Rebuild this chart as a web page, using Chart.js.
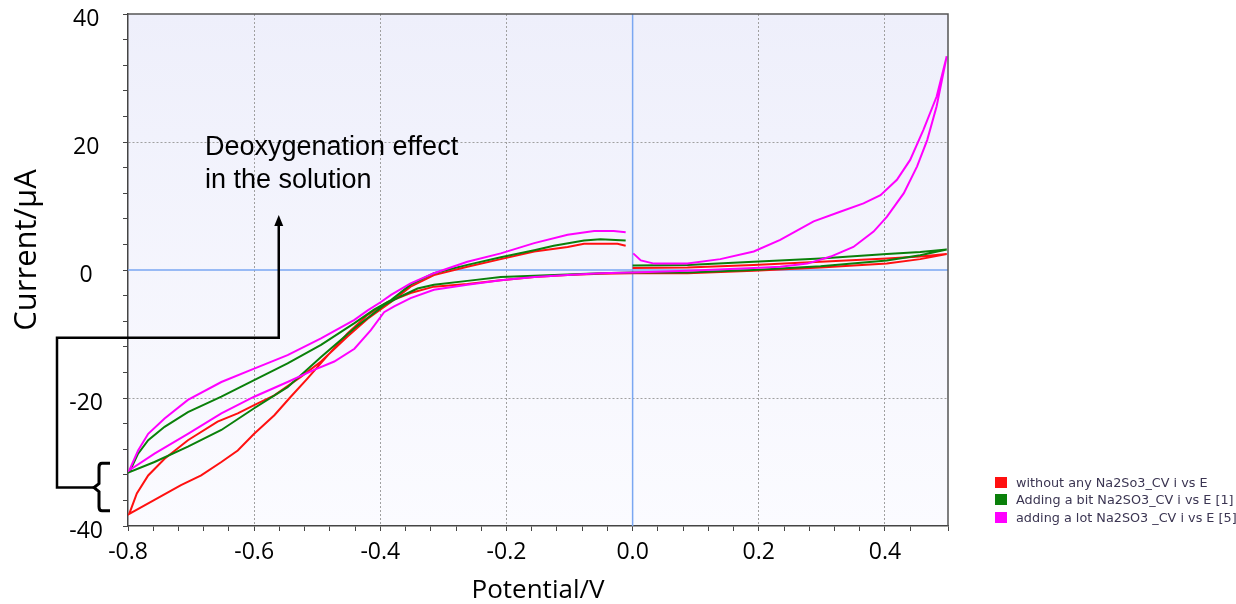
<!DOCTYPE html>
<html>
<head>
<meta charset="utf-8">
<script src="https://cdn.jsdelivr.net/npm/chart.js@4.4.1/dist/chart.umd.min.js"></script>
<style>
  html, body { margin: 0; padding: 0; background: #fff; }
  #wrap { position: relative; width: 1236px; height: 604px; }
  #legend { position: absolute; left: 995px; top: 474px; font: 12.8px "DejaVu Sans", sans-serif; color: #3b3552; }
  .item { height: 17.3px; display: flex; align-items: center; white-space: nowrap; }
  .sw { width: 12px; height: 11px; margin-right: 9px; flex: none; }
</style>
</head>
<body>
<div id="wrap">
  <canvas id="cv" width="1236" height="604"></canvas>
  <div id="legend"></div>
</div>
<script>
// scan: 0 -> 0.5 -> 0 -> -0.8 -> back up to -0.01 V
const redPotential = [0.0, 0.087, 0.192, 0.298, 0.403, 0.456, 0.498, 0.456, 0.403, 0.298, 0.192, 0.087, 0.0,
  -0.051, -0.103, -0.156, -0.209, -0.262, -0.315, -0.352, -0.388,
  -0.420, -0.452, -0.483, -0.516, -0.542, -0.568, -0.600, -0.626, -0.652, -0.684, -0.716, -0.758, -0.798,
  -0.786, -0.768, -0.742, -0.705, -0.658, -0.626, -0.600, -0.568, -0.526, -0.494, -0.452, -0.420,
  -0.383, -0.352, -0.315, -0.262, -0.209, -0.156, -0.103, -0.077, -0.024, -0.011];
const redCurrent = [0.3, 0.4, 0.8, 1.3, 1.8, 2.1, 2.5, 1.7, 1.0, 0.4, -0.1, -0.5, -0.5,
  -0.6, -0.8, -1.1, -1.6, -2.2, -2.6, -3.6, -5.0,
  -7.0, -9.9, -13.3, -17.0, -19.8, -22.7, -25.6, -28.2, -30.0, -32.1, -33.6, -35.9, -38.1,
  -34.9, -32.1, -29.5, -26.6, -23.7, -22.4, -21.1, -19.6, -16.7, -14.3, -10.4, -7.6,
  -5.0, -2.6, -0.8, 0.5, 1.7, 2.9, 3.6, 4.1, 4.1, 3.8];

const greenPotential = [0.0, 0.087, 0.192, 0.298, 0.403, 0.456, 0.498, 0.456, 0.403, 0.298, 0.192, 0.087, 0.0,
  -0.051, -0.103, -0.156, -0.209, -0.262, -0.315, -0.341, -0.367, -0.394,
  -0.441, -0.494, -0.547, -0.600, -0.652, -0.705, -0.758, -0.798,
  -0.784, -0.768, -0.742, -0.705, -0.652, -0.600, -0.547, -0.494, -0.441, -0.410,
  -0.383, -0.352, -0.315, -0.262, -0.209, -0.156, -0.125, -0.077, -0.051, -0.011];
const greenCurrent = [0.7, 0.8, 1.3, 1.8, 2.5, 2.8, 3.2, 2.3, 1.5, 0.6, 0.0, -0.4, -0.4,
  -0.5, -0.7, -0.9, -1.1, -1.7, -2.3, -2.9, -4.1, -5.5,
  -9.1, -13.6, -18.3, -21.6, -25.0, -27.6, -30.0, -31.6,
  -28.7, -26.6, -24.5, -22.2, -19.8, -17.2, -14.6, -11.7, -8.3, -6.2,
  -4.7, -2.3, -0.5, 0.8, 2.0, 3.1, 3.8, 4.6, 4.8, 4.6];

const magentaPotential = [0.001, 0.013, 0.034, 0.087, 0.139, 0.192, 0.234, 0.287, 0.329, 0.366, 0.393, 0.419, 0.440, 0.461, 0.482, 0.498,
  0.482, 0.467, 0.451, 0.430, 0.403, 0.382, 0.350, 0.314, 0.277, 0.234, 0.192, 0.087, 0.0,
  -0.051, -0.103, -0.156, -0.209, -0.262, -0.315, -0.352, -0.378, -0.394, -0.415, -0.441, -0.473, -0.505, -0.547, -0.600, -0.652, -0.705, -0.758, -0.798,
  -0.784, -0.768, -0.742, -0.705, -0.652, -0.600, -0.547, -0.494, -0.441, -0.420, -0.399,
  -0.383, -0.352, -0.315, -0.262, -0.209, -0.156, -0.103, -0.061, -0.030, -0.011];
const magentaCurrent = [2.6, 1.5, 1.0, 1.0, 1.7, 2.9, 4.7, 7.6, 9.1, 10.4, 11.7, 14.1, 17.2, 21.9, 27.1, 33.4,
  25.6, 20.3, 16.2, 12.0, 8.3, 6.0, 3.6, 2.1, 1.0, 0.5, 0.3, -0.1, -0.4,
  -0.5, -0.8, -1.1, -1.6, -2.3, -3.1, -4.4, -5.7, -6.6, -9.4, -12.3, -14.3, -15.6, -17.5, -19.8, -22.4, -25.6, -28.7, -31.3,
  -28.2, -25.6, -23.2, -20.3, -17.5, -15.4, -13.3, -10.7, -7.8, -6.3, -5.0,
  -3.9, -2.1, -0.5, 1.3, 2.6, 4.2, 5.5, 6.1, 6.1, 5.9];

const seriesNames = ['without any Na2So3_CV i vs E', 'Adding a bit Na2SO3_CV i vs E [1]', 'adding a lot Na2SO3 _CV i vs E [5]'];
const seriesColors = ['#ff1010', '#0a800a', '#ff00ff'];

function toPoints(xs, ys) {
    return xs.map((x, i) => ({ x: x, y: ys[i] }));
}

function isMajor(v, step) {
    return Math.abs(v / step - Math.round(v / step)) < 1e-6;
}

// annotation: arrow, connector and brace, text
const noteLines = ['Deoxygenation effect', 'in the solution'];

const decorPlugin = {
    id: 'decor',
    beforeDraw(chart) {
        const { ctx, chartArea: a } = chart;
        ctx.save();
        ctx.fillStyle = '#fff';
        ctx.fillRect(0, 0, chart.width, chart.height);
        const g = ctx.createLinearGradient(0, a.top, 0, a.bottom);
        g.addColorStop(0, '#eeeffb');
        g.addColorStop(1, '#fbfbff');
        ctx.fillStyle = g;
        ctx.fillRect(a.left, a.top, a.right - a.left, a.bottom - a.top);
        ctx.restore();
    },
    beforeDatasetsDraw(chart) {
        const { ctx, chartArea: a, scales: { x, y } } = chart;
        ctx.save();
        ctx.strokeStyle = '#7aa7f2';
        ctx.lineWidth = 1.5;
        ctx.beginPath();
        const x0 = x.getPixelForValue(0), y0 = y.getPixelForValue(0);
        ctx.moveTo(x0, a.top); ctx.lineTo(x0, a.bottom);
        ctx.moveTo(a.left, y0); ctx.lineTo(a.right, y0);
        ctx.stroke();
        ctx.restore();
    },
    afterDraw(chart) {
        const { ctx, chartArea: a, scales: { x, y } } = chart;
        ctx.save();
        // frame top / right
        ctx.strokeStyle = '#555';
        ctx.lineWidth = 1.5;
        ctx.beginPath();
        ctx.moveTo(a.left, a.top); ctx.lineTo(a.right, a.top); ctx.lineTo(a.right, a.bottom);
        ctx.stroke();

        // y axis title
        ctx.fillStyle = '#000';
        ctx.font = '31px "Open Sans"';
        ctx.textAlign = 'center';
        ctx.textBaseline = 'alphabetic';
        ctx.translate(36, 250);
        ctx.rotate(-Math.PI / 2);
        ctx.fillText('Current/µA', 0, 0);
        ctx.setTransform(1, 0, 0, 1, 0, 0);

        // arrow + connector
        const ax = x.getPixelForValue(-0.561);
        const yTip = y.getPixelForValue(8.6);
        const yBar = y.getPixelForValue(-10.6);
        const yMid = y.getPixelForValue(-34.0);
        const yTop = y.getPixelForValue(-30.2);
        const yBot = y.getPixelForValue(-37.6);
        const xl = a.left - 71;
        ctx.strokeStyle = '#000';
        ctx.lineWidth = 2.5;
        ctx.lineJoin = 'miter';
        ctx.beginPath();
        ctx.moveTo(ax, yTip + 8);
        ctx.lineTo(ax, yBar);
        ctx.lineTo(xl, yBar);
        ctx.lineTo(xl, yMid);
        ctx.lineTo(a.left - 34, yMid);
        ctx.stroke();
        ctx.beginPath();
        ctx.moveTo(ax, yTip);
        ctx.lineTo(ax - 4.5, yTip + 11);
        ctx.lineTo(ax + 4.5, yTip + 11);
        ctx.closePath();
        ctx.fillStyle = '#000';
        ctx.fill();

        // brace
        const bx = a.left - 29;
        ctx.lineWidth = 3;
        ctx.beginPath();
        ctx.moveTo(a.left - 18, yTop);
        ctx.lineTo(bx + 3, yTop);
        ctx.quadraticCurveTo(bx, yTop, bx, yTop + 4);
        ctx.lineTo(bx, yMid - 4);
        ctx.lineTo(bx - 5, yMid);
        ctx.lineTo(bx, yMid + 4);
        ctx.lineTo(bx, yBot - 4);
        ctx.quadraticCurveTo(bx, yBot, bx + 3, yBot);
        ctx.lineTo(a.left - 18, yBot);
        ctx.stroke();

        // note text
        ctx.font = '27px "Liberation Sans"';
        ctx.textAlign = 'left';
        ctx.textBaseline = 'alphabetic';
        const tx = x.getPixelForValue(-0.678);
        ctx.fillText(noteLines[0], tx, y.getPixelForValue(18.0));
        ctx.fillText(noteLines[1], tx, y.getPixelForValue(12.8));
        ctx.restore();
    }
};

const ctx = document.getElementById('cv').getContext('2d');
const cvChart = new Chart(ctx, {
    type: 'scatter',
    data: {
        datasets: [
            { label: seriesNames[0], data: toPoints(redPotential, redCurrent), order: 2 },
            { label: seriesNames[1], data: toPoints(greenPotential, greenCurrent), order: 1 },
            { label: seriesNames[2], data: toPoints(magentaPotential, magentaCurrent), order: 0 }
        ].map((d, i) => Object.assign(d, {
            showLine: true,
            borderColor: seriesColors[i],
            backgroundColor: seriesColors[i],
            borderWidth: 2,
            pointRadius: 0,
            tension: 0
        }))
    },
    options: {
        responsive: false,
        devicePixelRatio: 1,
        animation: false,
        layout: { padding: { top: 14, right: 288, left: 0, bottom: 0 } },
        plugins: {
            legend: { display: false },
            tooltip: { enabled: false }
        },
        scales: {
            x: {
                type: 'linear',
                min: -0.8,
                max: 0.5,
                afterFit: s => { s.height = 78; s.paddingLeft = 0; s.paddingRight = 0; },
                ticks: {
                    stepSize: 0.04,
                    autoSkip: false,
                    maxRotation: 0,
                    color: '#000',
                    padding: 8,
                    font: { family: 'Open Sans', size: 23 },
                    callback: v => isMajor(v, 0.2) ? (Math.abs(v) < 1e-9 ? '0.0' : v.toFixed(1)) : ''
                },
                grid: {
                    color: c => {
                        const v = c.tick ? c.tick.value : 0;
                        return (isMajor(v, 0.2) && Math.abs(v) > 1e-9 && v > -0.79 && v < 0.49) ? '#a0a0a0' : 'rgba(0,0,0,0)';
                    },
                    lineWidth: 1,
                    tickColor: '#444',
                    tickLength: 5
                },
                border: { color: '#444', width: 1.5, dash: [2, 2] },
                title: {
                    display: true,
                    text: 'Potential/V',
                    color: '#000',
                    font: { family: 'Open Sans', size: 26, lineHeight: 1 },
                    padding: 0
                }
            },
            y: {
                type: 'linear',
                min: -40,
                max: 40,
                afterFit: s => { s.width = 128; s.paddingTop = 0; s.paddingBottom = 0; },
                ticks: {
                    stepSize: 4,
                    autoSkip: false,
                    color: '#000',
                    padding: 20,
                    crossAlign: 'center',
                    labelOffset: 5,
                    font: { family: 'Open Sans', size: 23 },
                    callback: v => isMajor(v, 20) ? String(Math.round(v)) : ''
                },
                grid: {
                    color: c => {
                        const v = c.tick ? c.tick.value : 0;
                        return (isMajor(v, 20) && v !== 0 && Math.abs(v) < 39) ? '#a0a0a0' : 'rgba(0,0,0,0)';
                    },
                    lineWidth: 1,
                    tickColor: '#444',
                    tickLength: 5
                },
                border: { color: '#444', width: 1.5, dash: [2, 2] }
            }
        }
    },
    plugins: [decorPlugin]
});

// legend
const legendBox = document.getElementById('legend');
seriesNames.forEach((name, i) => {
    const row = document.createElement('div');
    row.className = 'item';
    const sw = document.createElement('span');
    sw.className = 'sw';
    sw.style.background = seriesColors[i];
    const txt = document.createElement('span');
    txt.innerText = name;
    row.appendChild(sw);
    row.appendChild(txt);
    legendBox.appendChild(row);
});
</script>
</body>
</html>
